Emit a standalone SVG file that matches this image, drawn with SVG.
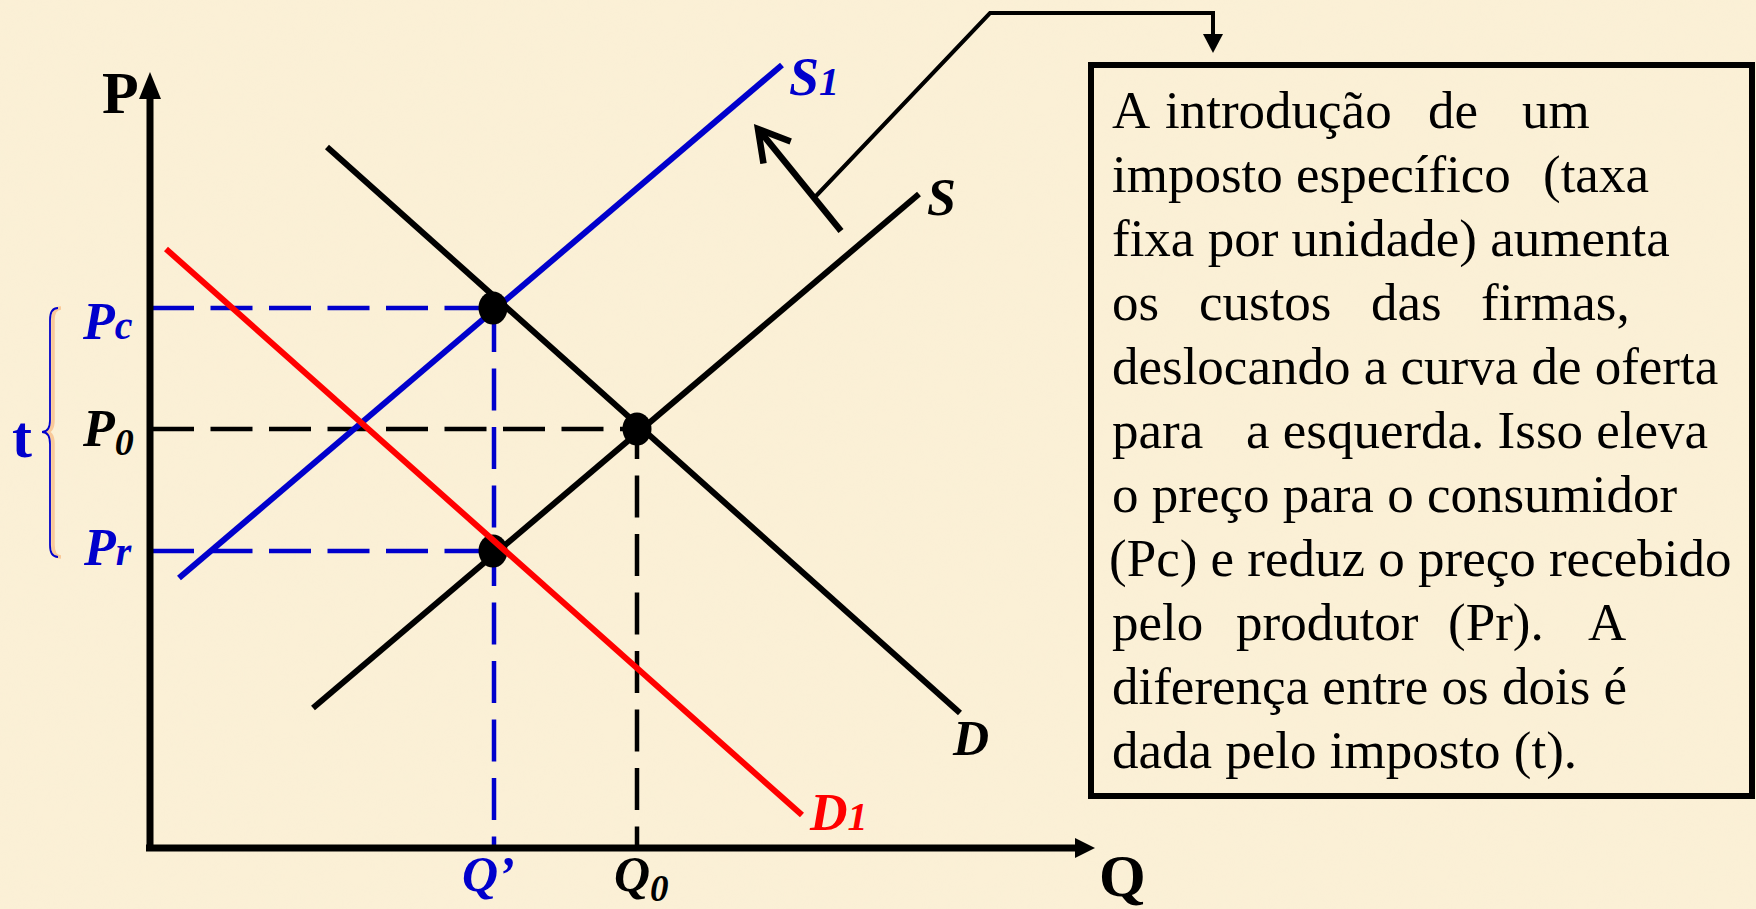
<svg xmlns="http://www.w3.org/2000/svg" width="1756" height="909" viewBox="0 0 1756 909">
<style>
.bg{fill:#FBF0D6}
.ax{stroke:#000;stroke-width:7;fill:none}
.crv{stroke-width:6;fill:none;stroke-linecap:butt}
.dash{stroke-width:4.5;fill:none;stroke-dasharray:42 16.5}
.lbl{font-family:"Liberation Serif","Times New Roman",serif;font-weight:bold;font-style:italic}
.ax-lbl{font-family:"Liberation Serif","Times New Roman",serif;font-weight:bold;font-size:60px}
.txt{font-family:"Liberation Serif","Times New Roman",serif;font-size:53px;fill:#000}
.blue{fill:#0000CC}
.red{fill:#FF0000}
</style>
<defs>
  <filter id="parch" x="0" y="0" width="100%" height="100%">
    <feTurbulence type="fractalNoise" baseFrequency="0.035" numOctaves="3" seed="7" result="n"/>
    <feColorMatrix in="n" type="matrix" values="0 0 0 0 0.93  0 0 0 0 0.85  0 0 0 0 0.66  0 0 0 0.35 -0.08"/>
  </filter>
</defs>
<rect class="bg" x="0" y="0" width="1756" height="909"/>
<rect x="0" y="0" width="1756" height="909" filter="url(#parch)" opacity="0.5"/>

<g id="connectors">
  <line class="dash" x1="152" y1="308" x2="480" y2="308" stroke="#0000CC"/>
  <line class="dash" x1="152" y1="429" x2="624" y2="429" stroke="#000"/>
  <line class="dash" x1="152" y1="551" x2="480" y2="551" stroke="#0000CC"/>
  <line class="dash" x1="494" y1="310" x2="494" y2="846" stroke="#0000CC"/>
  <line class="dash" x1="637" y1="429" x2="637" y2="846" stroke="#000" stroke-dashoffset="12"/>
  <line id="S1" class="crv" x1="179" y1="578" x2="782" y2="65" stroke="#0000CC"/>
  <line id="S" class="crv" x1="313" y1="708" x2="919" y2="194" stroke="#000"/>
  <line id="D" class="crv" x1="327" y1="147" x2="960" y2="713" stroke="#000"/>
  <line x1="841" y1="231" x2="759" y2="130" stroke="#000" stroke-width="6.5"/>
  <polyline points="763.5,163.6 758,129 790.7,141.5" fill="none" stroke="#000" stroke-width="6.5" stroke-linejoin="miter"/>
  <polyline points="816,196 990,13 1213,13 1213,36" fill="none" stroke="#000" stroke-width="4"/>
  <polygon points="1203,34 1223,34 1213,53" fill="#000"/>
</g>

<g id="axes">
  <line class="ax" x1="150" y1="851" x2="150" y2="95"/>
  <polygon points="150,72 139,99 161,99" fill="#000"/>
  <line class="ax" x1="146" y1="848" x2="1078" y2="848"/>
  <polygon points="1095,848 1075,838 1075,858" fill="#000"/>
  <text class="ax-lbl" x="102" y="113">P</text>
  <text class="ax-lbl" x="1099" y="896" font-size="58">Q</text>
</g>

<g id="points">
  <ellipse cx="493" cy="308" rx="14.5" ry="16.5" fill="#000"/>
  <ellipse cx="637" cy="429" rx="14.5" ry="16.5" fill="#000"/>
  <ellipse cx="493" cy="551" rx="14.5" ry="16.5" fill="#000"/>
</g>

<g id="D1-curve">
  <line class="crv" x1="166" y1="249" x2="802" y2="815" stroke="#FF0000"/>
</g>

<g id="labels">
  <text class="lbl blue" x="789" y="95" font-size="54">S<tspan font-size="40">1</tspan></text>
  <text class="lbl" x="927" y="215" font-size="52">S</text>
  <text class="lbl" x="953" y="755" font-size="50">D</text>
  <text class="lbl red" x="810" y="830" font-size="52">D<tspan font-size="40">1</tspan></text>
  <text class="lbl blue" x="83" y="339" font-size="52">P<tspan font-size="40">c</tspan></text>
  <text class="lbl" x="83" y="446" font-size="52">P<tspan font-size="38" dy="9">0</tspan></text>
  <text class="lbl blue" x="84" y="565" font-size="52">P<tspan font-size="40">r</tspan></text>
  <text class="lbl blue" x="462" y="891" font-size="50">Q’</text>
  <text class="lbl" x="614" y="891" font-size="50">Q<tspan font-size="37" dy="10">0</tspan></text>
</g>

<g id="tax-brace">
  <path d="M61,308 Q53,308 53,320 L53,420 Q53,432 45,432 Q53,432 53,444 L53,545 Q53,557 61,557" fill="none" stroke="#F9C99A" stroke-width="3.5"/>
  <path d="M58,308 Q50,308 50,320 L50,420 Q50,432 42,432 Q50,432 50,444 L50,545 Q50,557 58,557" fill="none" stroke="#0000CC" stroke-width="1.8"/>
  <text x="12" y="457" font-family="'Liberation Serif','Times New Roman',serif" font-weight="bold" font-size="60" fill="#0000CC">t</text>
</g>

<g id="textbox">
  <rect x="1091" y="65" width="661" height="731" fill="none" stroke="#000" stroke-width="6"/>
  <text class="txt" y="128"><tspan x="1112">A</tspan><tspan x="1165">introdução</tspan><tspan x="1428">de</tspan><tspan x="1522">um</tspan></text>
  <text class="txt" y="192"><tspan x="1112">imposto específico</tspan><tspan x="1543">(taxa</tspan></text>
  <text class="txt" y="256"><tspan x="1112">fixa por unidade) aumenta</tspan></text>
  <text class="txt" y="320"><tspan x="1112">os</tspan><tspan x="1199">custos</tspan><tspan x="1371">das</tspan><tspan x="1481">firmas,</tspan></text>
  <text class="txt" y="384"><tspan x="1112">deslocando a curva de oferta</tspan></text>
  <text class="txt" y="448"><tspan x="1112">para</tspan><tspan x="1246">a esquerda. Isso eleva</tspan></text>
  <text class="txt" y="512"><tspan x="1112">o preço para o consumidor</tspan></text>
  <text class="txt" y="576"><tspan x="1109">(Pc) e reduz o preço recebido</tspan></text>
  <text class="txt" y="640"><tspan x="1112">pelo</tspan><tspan x="1236">produtor</tspan><tspan x="1448">(Pr).</tspan><tspan x="1588">A</tspan></text>
  <text class="txt" y="704"><tspan x="1112">diferença entre os dois é</tspan></text>
  <text class="txt" y="768"><tspan x="1112">dada pelo imposto (t).</tspan></text>
</g>
</svg>
